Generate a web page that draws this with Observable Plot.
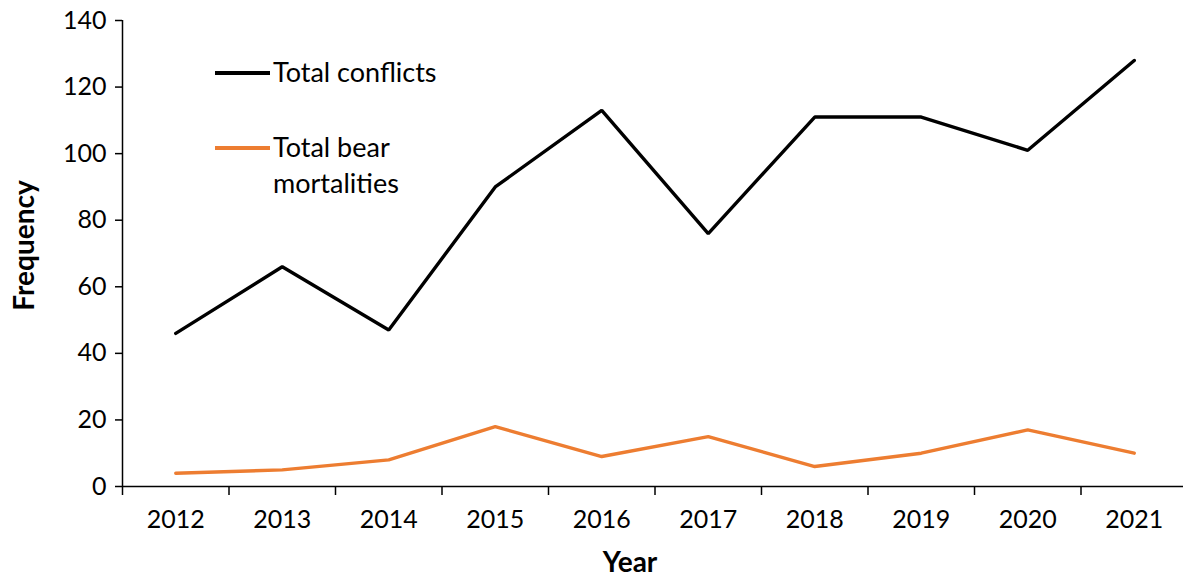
<!DOCTYPE html>
<html><head><meta charset="utf-8">
<script src="https://cdn.jsdelivr.net/npm/d3@7"></script>
<script src="https://cdn.jsdelivr.net/npm/@observablehq/plot@0.6"></script>
<style>
body{margin:0;background:#fff;}
#wrap{position:relative;width:1183px;height:577px;overflow:hidden;font-family:Lato,sans-serif;}
.leg{position:absolute;display:flex;align-items:flex-start;font-size:27px;line-height:36px;color:#000;}
.leg .sw{width:55px;height:4px;margin-top:17px;margin-right:3px;}
</style></head><body>
<div id="wrap"></div>
<script>
const years = [2012,2013,2014,2015,2016,2017,2018,2019,2020,2021];
const conflicts = [46,66,47,90,113,76,111,111,101,128];
const mortalities = [4,5,8,18,9,15,6,10,17,10];
const yTicks = [0,20,40,60,80,100,120,140];
const seriesNames = ["Total conflicts","Total bear mortalities"];
const colors = ["#000000","#ED7D31"];

const rows = [];
years.forEach((y,i)=>{rows.push({year:y,value:conflicts[i],s:seriesNames[0]});});
years.forEach((y,i)=>{rows.push({year:y,value:mortalities[i],s:seriesNames[1]});});
const bounds = years.map(y=>y-0.5).concat([years[years.length-1]+0.5]);

const chart = Plot.plot({
  width:1183, height:577,
  marginLeft:122, marginRight:-4, marginTop:20, marginBottom:91,
  style:{fontFamily:"Lato, sans-serif", fontSize:"25px", color:"#000", background:"#fff"},
  x:{type:"linear", domain:[bounds[0], bounds[bounds.length-1]]},
  y:{domain:[0,140]},
  color:{domain:seriesNames, range:colors},
  marks:[
    Plot.axisY({ticks:yTicks, tickSize:7, tickPadding:9, tickFormat:d=>String(d), label:null, strokeWidth:1.5}),
    Plot.axisX({ticks:bounds, tickSize:9, tickFormat:()=>"", label:null, strokeWidth:1.5}),
    Plot.axisX({ticks:years, tickSize:0, tickPadding:24, tickFormat:d=>String(d), label:null}),
    Plot.ruleY([0],{stroke:"#000", strokeWidth:1.5}),
    Plot.ruleX([bounds[0]],{y1:0,y2:140,stroke:"#000", strokeWidth:1.5}),
    Plot.line(rows,{x:"year", y:"value", z:"s", stroke:"s", strokeWidth:3.4, strokeLinejoin:"miter"}),
    Plot.text(["Year"],{frameAnchor:"bottom", dy:85, dx:-25, fontWeight:"bold", fontSize:28}),
    Plot.text(["Frequency"],{frameAnchor:"left", textAnchor:"middle", dx:-97, dy:-8, rotate:-90, fontWeight:"bold", fontSize:28})
  ]
});
const wrap = document.getElementById("wrap");
wrap.appendChild(chart);
const legPos = [{left:215,top:54},{left:215,top:129}];
const legLabels = [["Total conflicts"],["Total bear","mortalities"]];
seriesNames.forEach((n,i)=>{
  const d = document.createElement("div");
  d.className="leg";
  d.style.left=legPos[i].left+"px"; d.style.top=legPos[i].top+"px";
  d.innerHTML = `<div class="sw" style="background:${colors[i]}"></div><div>${legLabels[i].join("<br>")}</div>`;
  wrap.appendChild(d);
});
</script></body></html>
